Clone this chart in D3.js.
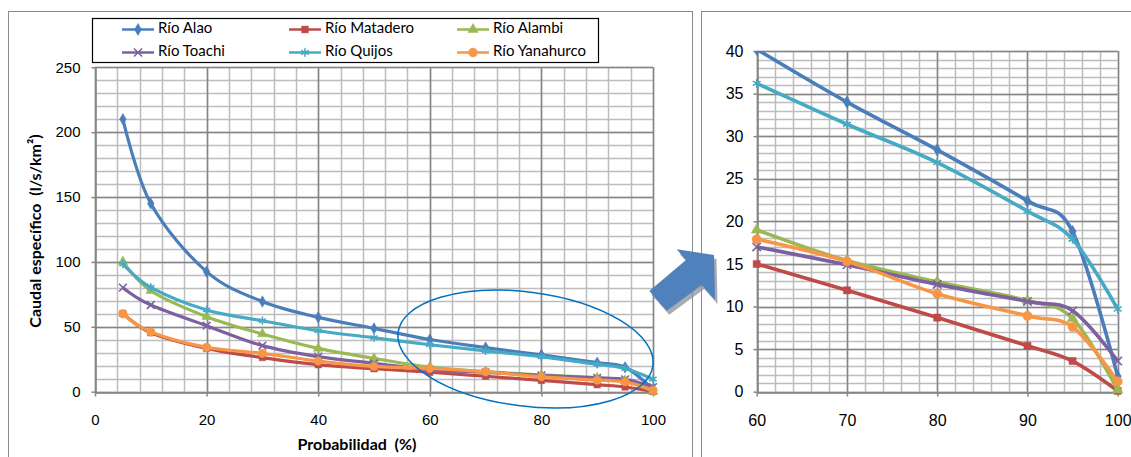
<!DOCTYPE html>
<html>
<head>
<meta charset="utf-8">
<script src="https://cdn.jsdelivr.net/npm/d3@7"></script>
<style>
  body { margin: 0; background: #fff; }
  svg { display: block; font-family: Lato, "Open Sans", sans-serif; }
</style>
</head>
<body>
<div id="chart"></div>
<script>
// Probability of exceedance (%)
const probabilidad = [5, 10, 20, 30, 40, 50, 60, 70, 80, 90, 95, 100];

// Caudal específico (l/s/km²) per river
const rioAlao      = [210, 145, 92.5, 69.5, 57.3, 48.8, 40.2, 34.0, 28.4, 22.4, 18.8, 1.8];
const rioMatadero  = [60.3, 45.5, 33.4, 26.3, 20.8, 17.7, 15.0, 11.9, 8.7, 5.4, 3.6, 0.1];
const rioAlambi    = [100.2, 77.8, 57.8, 44.5, 33.4, 25.7, 19.0, 15.4, 12.9, 10.7, 8.6, 0.2];
const rioToachi    = [80.2, 66.8, 50.9, 35.5, 27.0, 21.9, 17.0, 14.9, 12.6, 10.6, 9.5, 3.6];
const rioQuijos    = [98.4, 80.4, 63.0, 54.7, 47.0, 41.6, 36.2, 31.4, 26.9, 21.2, 17.9, 9.7];
const rioYanahurco = [60.0, 46.0, 34.2, 29.6, 23.6, 19.5, 17.9, 15.3, 11.5, 8.9, 7.6, 1.2];

const seriesNames = ["Río Alao", "Río Matadero", "Río Alambi", "Río Toachi", "Río Quijos", "Río Yanahurco"];

const xTicksMain = [0, 20, 40, 60, 80, 100];
const yTicksMain = [0, 50, 100, 150, 200, 250];
const xTicksZoom = [60, 70, 80, 90, 100];
const yTicksZoom = [0, 5, 10, 15, 20, 25, 30, 35, 40];

const seriesValues = [rioAlao, rioMatadero, rioAlambi, rioToachi, rioQuijos, rioYanahurco];
const colors = ["#4A7EBB", "#BE4B48", "#98B954", "#7D60A0", "#46AAC5", "#F79646"];
const symbols = [
  { type: d3.symbolDiamond, size: 38, stroke: false },
  { type: d3.symbolSquare, size: 42, stroke: false },
  { type: d3.symbolTriangle, size: 42, stroke: false },
  { type: d3.symbolX, size: 40, stroke: true },
  { type: d3.symbolAsterisk, size: 48, stroke: true },
  { type: d3.symbolCircle, size: 56, stroke: false }
];

const series = seriesNames.map((name, i) => ({
  name,
  color: colors[i],
  symbol: symbols[i],
  values: probabilidad.map((p, j) => ({ p, q: seriesValues[i][j] }))
}));

const W = 1131, H = 457;
const svg = d3.select("#chart").append("svg")
  .attr("width", W)
  .attr("height", H);

// chart frames
svg.append("rect")
  .attr("x", 8.5).attr("y", 11.5).attr("width", 684).attr("height", 470)
  .attr("fill", "#fff").attr("stroke", "#8c8c8c");
svg.append("rect")
  .attr("x", 701.5).attr("y", 11.5).attr("width", 440).attr("height", 470)
  .attr("fill", "#fff").attr("stroke", "#8c8c8c");

const drawPanel = (cfg) => {
  const x = d3.scaleLinear().domain(cfg.xDomain).range(cfg.xRange);
  const y = d3.scaleLinear().domain(cfg.yDomain).range(cfg.yRange);
  const g = svg.append("g");

  // minor gridlines
  g.selectAll(".xMinor")
    .data(d3.range(cfg.xDomain[0], cfg.xDomain[1] + 0.001, cfg.xMinor))
    .join("line")
    .attr("x1", d => Math.round(x(d)) + 0.5).attr("x2", d => Math.round(x(d)) + 0.5)
    .attr("y1", cfg.yRange[0]).attr("y2", cfg.yRange[1])
    .attr("stroke", "#bdbdbd").attr("stroke-width", 1.5);
  g.selectAll(".yMinor")
    .data(d3.range(cfg.yDomain[0], cfg.yDomain[1] + 0.001, cfg.yMinor))
    .join("line")
    .attr("x1", cfg.xRange[0]).attr("x2", cfg.xRange[1])
    .attr("y1", d => Math.round(y(d)) + 0.5).attr("y2", d => Math.round(y(d)) + 0.5)
    .attr("stroke", "#bdbdbd").attr("stroke-width", 1.5);

  // major gridlines
  g.selectAll(".xMajor")
    .data(cfg.xTicks)
    .join("line")
    .attr("x1", d => Math.round(x(d)) + 0.5).attr("x2", d => Math.round(x(d)) + 0.5)
    .attr("y1", cfg.yRange[0]).attr("y2", cfg.yRange[1])
    .attr("stroke", "#868686").attr("stroke-width", 1.5);
  g.selectAll(".yMajor")
    .data(cfg.yTicks)
    .join("line")
    .attr("x1", cfg.xRange[0]).attr("x2", cfg.xRange[1])
    .attr("y1", d => Math.round(y(d)) + 0.5).attr("y2", d => Math.round(y(d)) + 0.5)
    .attr("stroke", "#868686").attr("stroke-width", 1.5);

  // axes
  const xAxis = d3.axisBottom(x).tickValues(cfg.xTicks).tickSize(4).tickSizeOuter(0).tickPadding(cfg.xPad);
  const yAxis = d3.axisLeft(y).tickValues(cfg.yTicks).tickSize(4).tickSizeOuter(0).tickPadding(cfg.yPad);

  g.append("g")
    .attr("transform", `translate(0,${Math.round(cfg.yRange[0]) + 0.5})`)
    .call(xAxis)
    .call(a => a.select(".domain").attr("stroke", "#868686").attr("stroke-width", 1.5))
    .call(a => a.selectAll(".tick line").attr("stroke", "#868686").attr("stroke-width", 1.5))
    .selectAll(".tick text")
    .attr("fill", "#000")
    .style("font-size", cfg.fontSize + "px");

  g.append("g")
    .attr("transform", `translate(${Math.round(cfg.xRange[0]) + 0.5},0)`)
    .call(yAxis)
    .call(a => a.select(".domain").attr("stroke", "#868686").attr("stroke-width", 1.5))
    .call(a => a.selectAll(".tick line").attr("stroke", "#868686").attr("stroke-width", 1.5))
    .selectAll(".tick text")
    .attr("fill", "#000")
    .style("font-size", cfg.fontSize + "px");

  // clip to the plot area (Alao runs above the top of the zoomed panel)
  svg.append("clipPath").attr("id", cfg.id)
    .append("rect")
    .attr("x", cfg.xRange[0] - 6).attr("y", cfg.yRange[1])
    .attr("width", cfg.xRange[1] - cfg.xRange[0] + 12)
    .attr("height", cfg.yRange[0] - cfg.yRange[1] + 6);

  const line = d3.line()
    .x(d => x(d.p))
    .y(d => y(d.q))
    .curve(d3.curveCardinal.tension(0));

  const plot = g.append("g").attr("clip-path", `url(#${cfg.id})`);

  series.forEach(s => {
    const pts = s.values.filter(d => d.p >= cfg.xDomain[0]);
    plot.append("path")
      .datum(pts)
      .attr("fill", "none")
      .attr("stroke", s.color)
      .attr("stroke-width", cfg.lineWidth)
      .attr("stroke-linejoin", "round")
      .attr("d", line);

    plot.selectAll(null)
      .data(pts)
      .join("path")
      .attr("transform", d => `translate(${x(d.p)},${y(d.q)})`)
      .attr("d", d3.symbol().type(s.symbol.type).size(s.symbol.size * cfg.markerScale))
      .attr("fill", s.symbol.stroke ? "none" : s.color)
      .attr("stroke", s.color)
      .attr("stroke-width", s.symbol.stroke ? 1.6 : 0.5);
  });

  return { x, y, g };
};

// main panel
drawPanel({
  id: "clipMain",
  xDomain: [0, 100], xRange: [95, 653],
  yDomain: [0, 250], yRange: [391.7, 67.3],
  xTicks: xTicksMain, yTicks: yTicksMain,
  xMinor: 4, yMinor: 10,
  xPad: 18, yPad: 11,
  fontSize: 15, lineWidth: 3.2, markerScale: 1
});

// zoomed panel
drawPanel({
  id: "clipZoom",
  xDomain: [60, 100], xRange: [756.7, 1117.7],
  yDomain: [0, 40], yRange: [391.7, 51],
  xTicks: xTicksZoom, yTicks: yTicksZoom,
  xMinor: 2, yMinor: 1,
  xPad: 18, yPad: 10,
  fontSize: 16, lineWidth: 3.6, markerScale: 1.2
});

// axis titles (main panel only)
svg.append("text")
  .attr("x", 357)
  .attr("y", 446)
  .attr("text-anchor", "middle")
  .attr("dominant-baseline", "middle")
  .style("font-size", "16px")
  .style("font-weight", "bold")
  .style("white-space", "pre")
  .text("Probabilidad  (%)");

svg.append("text")
  .attr("transform", "translate(37,231) rotate(-90)")
  .attr("text-anchor", "middle")
  .attr("dominant-baseline", "middle")
  .style("font-size", "16px")
  .style("font-weight", "bold")
  .style("white-space", "pre")
  .text("Caudal específico  (l/s/km²)");

// legend
const legend = svg.append("g");
legend.append("rect")
  .attr("x", 92.5).attr("y", 18.5).attr("width", 506).attr("height", 44)
  .attr("fill", "#fff").attr("stroke", "#000").attr("stroke-width", 1.2);

const legendCols = [122, 289, 457];
const legendRows = [29.5, 52.5];
series.forEach((s, i) => {
  const lx = legendCols[i % 3], ly = legendRows[Math.floor(i / 3)];
  const item = legend.append("g");
  item.append("line")
    .attr("x1", lx).attr("x2", lx + 32)
    .attr("y1", ly).attr("y2", ly)
    .attr("stroke", s.color).attr("stroke-width", 2.5);
  item.append("path")
    .attr("transform", `translate(${lx + 16},${ly})`)
    .attr("d", d3.symbol().type(s.symbol.type).size(s.symbol.size * 1.1))
    .attr("fill", s.symbol.stroke ? "none" : s.color)
    .attr("stroke", s.color)
    .attr("stroke-width", s.symbol.stroke ? 1.6 : 0.5);
  item.append("text")
    .attr("x", lx + 36)
    .attr("y", ly)
    .attr("dominant-baseline", "middle")
    .style("font-size", "15px")
    .text(s.name);
});

// ellipse highlighting the zoomed region
svg.append("ellipse")
  .attr("cx", 525.5).attr("cy", 349)
  .attr("rx", 128.5).attr("ry", 57)
  .attr("transform", "rotate(7.4,525.5,349)")
  .attr("fill", "none")
  .attr("stroke", "#0070C0")
  .attr("stroke-width", 1.5);

// block arrow pointing to the zoomed panel
const arrowPts = [[649.3, 291], [686, 260], [676.7, 249.3], [714, 255], [715, 300], [701.7, 285], [666.7, 310.7]];
svg.append("polygon")
  .attr("points", arrowPts.map(p => `${p[0] + 2.5},${p[1] + 4}`).join(" "))
  .attr("fill", "#8a8f99")
  .attr("opacity", 0.75);
svg.append("polygon")
  .attr("points", arrowPts.map(p => p.join(",")).join(" "))
  .attr("fill", "#4F81BD");
</script>
</body>
</html>
